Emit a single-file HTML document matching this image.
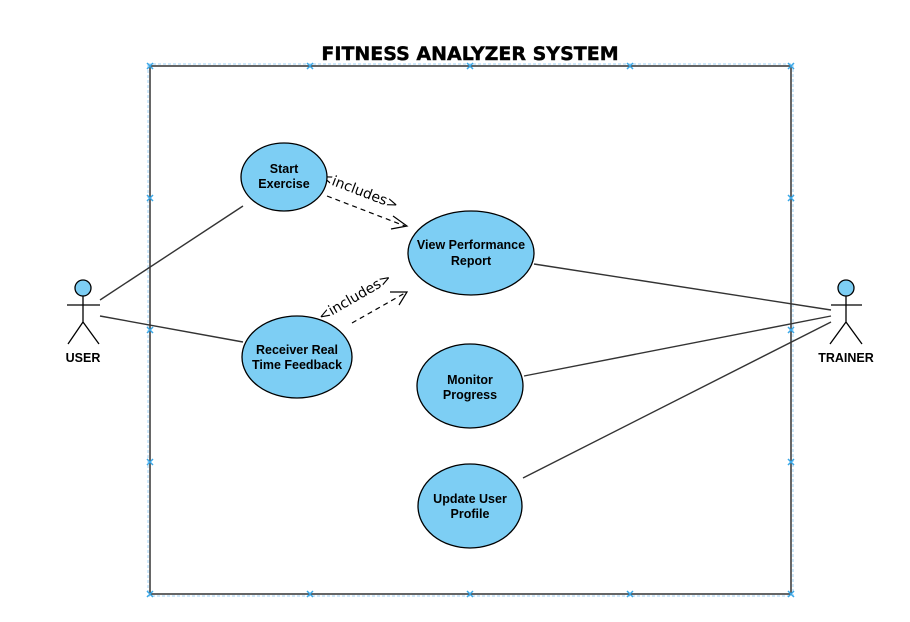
<!DOCTYPE html>
<html><head><meta charset="utf-8"><style>
html,body{margin:0;padding:0;background:#fff;}
svg{display:block;}
.uc{fill:#7DCEF4;stroke:#000;stroke-width:1.3;}
.t{font-family:"Liberation Sans",sans-serif;font-weight:bold;font-size:12.5px;text-anchor:middle;fill:#000;}
.ln{stroke:#333;stroke-width:1.4;fill:none;}
.mk{stroke:#3aa8e8;stroke-width:1.5;}
</style></head><body>
<svg width="910" height="622" xmlns="http://www.w3.org/2000/svg">
<text x="470" y="60" font-family="'DejaVu Sans','Liberation Sans',sans-serif" font-weight="bold" font-size="19" text-anchor="middle" stroke="#000" stroke-width="0.4">FITNESS ANALYZER SYSTEM</text>
<rect x="148" y="64" width="645" height="532" fill="none" stroke="#9fd0f5" stroke-width="1" stroke-dasharray="3,2"/>
<rect x="150" y="66" width="641" height="528" fill="none" stroke="#333" stroke-width="1.5"/>
<g class="mk">
<path d="M147 63l6 6M153 63l-6 6M307 63l6 6M313 63l-6 6M467 63l6 6M473 63l-6 6M627 63l6 6M633 63l-6 6M788 63l6 6M794 63l-6 6"/>
<path d="M147 591l6 6M153 591l-6 6M307 591l6 6M313 591l-6 6M467 591l6 6M473 591l-6 6M627 591l6 6M633 591l-6 6M788 591l6 6M794 591l-6 6"/>
<path d="M147 195l6 6M153 195l-6 6M147 327l6 6M153 327l-6 6M147 459l6 6M153 459l-6 6"/>
<path d="M788 195l6 6M794 195l-6 6M788 327l6 6M794 327l-6 6M788 459l6 6M794 459l-6 6"/>
</g>
<line class="ln" x1="100" y1="300" x2="243" y2="206"/>
<line class="ln" x1="100" y1="316" x2="243" y2="342"/>
<line class="ln" x1="831" y1="310" x2="534" y2="264"/>
<line class="ln" x1="831" y1="316" x2="524" y2="376"/>
<line class="ln" x1="831" y1="322" x2="523" y2="478"/>
<line x1="327" y1="196" x2="405" y2="226" stroke="#000" stroke-width="1.2" stroke-dasharray="5,4"/>
<path d="M393 216L407 226L391 229" fill="none" stroke="#000" stroke-width="1.2"/>
<line x1="352" y1="323" x2="405" y2="293" stroke="#000" stroke-width="1.2" stroke-dasharray="5,4"/>
<path d="M390 292L407 292L399 305" fill="none" stroke="#000" stroke-width="1.2"/>
<text x="358" y="195" transform="rotate(21 358 195)" font-family="'DejaVu Sans','Liberation Sans',sans-serif" font-size="14" text-anchor="middle">&lt;includes&gt;</text>
<text x="357" y="301" transform="rotate(-30 357 301)" font-family="'DejaVu Sans','Liberation Sans',sans-serif" font-size="14" text-anchor="middle">&lt;includes&gt;</text>
<ellipse class="uc" cx="284" cy="177" rx="43" ry="34"/>
<text class="t" x="284" y="173">Start</text><text class="t" x="284" y="188">Exercise</text>
<ellipse class="uc" cx="471" cy="253" rx="63" ry="42"/>
<text class="t" x="471" y="249">View Performance</text><text class="t" x="471" y="265">Report</text>
<ellipse class="uc" cx="297" cy="357" rx="55" ry="41"/>
<text class="t" x="297" y="354">Receiver Real</text><text class="t" x="297" y="369">Time Feedback</text>
<ellipse class="uc" cx="470" cy="386" rx="53" ry="42"/>
<text class="t" x="470" y="384">Monitor</text><text class="t" x="470" y="399">Progress</text>
<ellipse class="uc" cx="470" cy="506" rx="52" ry="42"/>
<text class="t" x="470" y="503">Update User</text><text class="t" x="470" y="518">Profile</text>
<g stroke="#000" stroke-width="1.3" fill="none">
<circle cx="83" cy="288" r="8" fill="#7DCEF4"/>
<path d="M83 296V322M67 305H100M83 322L68 344M83 322L99 344"/>
<circle cx="846" cy="288" r="8" fill="#7DCEF4"/>
<path d="M846 296V322M831 305H862M846 322L830 344M846 322L862 344"/>
</g>
<text class="t" x="83" y="362">USER</text>
<text class="t" x="846" y="362">TRAINER</text>
</svg>
</body></html>
